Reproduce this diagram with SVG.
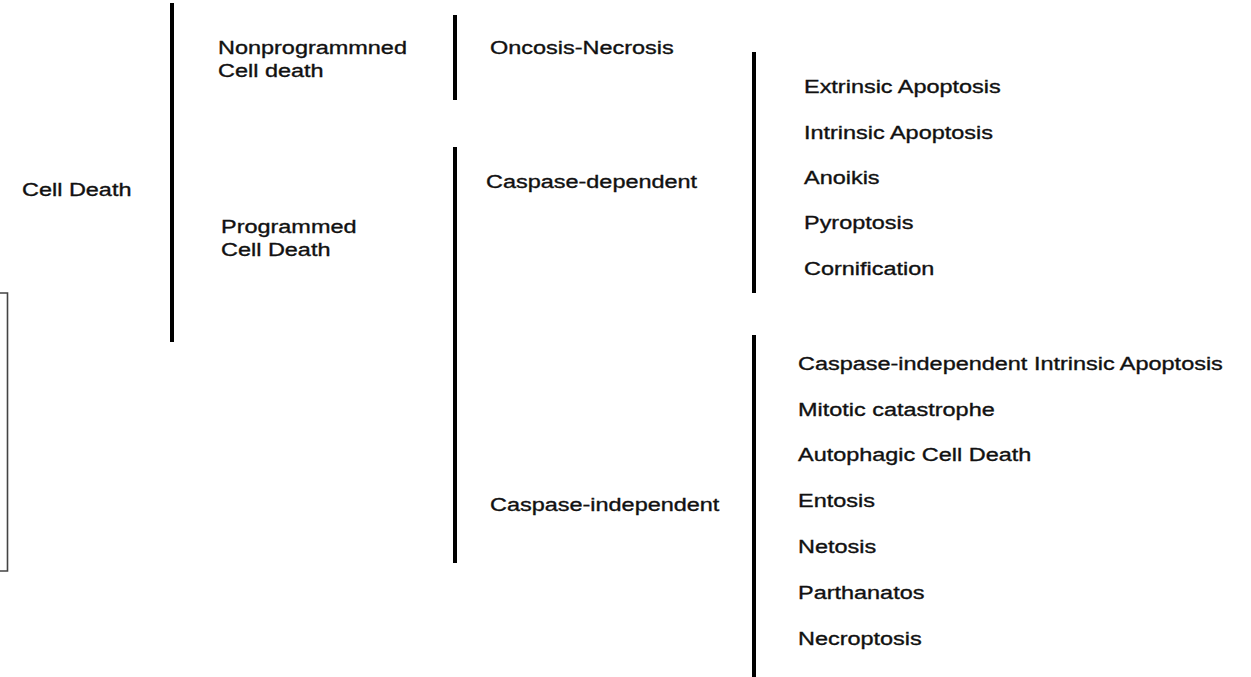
<svg xmlns="http://www.w3.org/2000/svg" width="1251" height="677" viewBox="0 0 1251 677">
<style>
text{font-family:"Liberation Sans",Arial,sans-serif;font-size:19px;fill:#111;stroke:#111;stroke-width:0.35}
.br{stroke:#000;stroke-width:4;fill:none}
.box{stroke:#444;stroke-width:1.6;fill:none}
</style>
<rect width="1251" height="677" fill="#fff"/>
<g id="connectors">
<line class="br" x1="172" y1="3" x2="172" y2="342"/>
<line class="br" x1="455" y1="15" x2="455" y2="100"/>
<line class="br" x1="455" y1="147" x2="455" y2="563"/>
<line class="br" x1="754" y1="52" x2="754" y2="293"/>
<line class="br" x1="754" y1="335" x2="754" y2="677"/>
</g>
<g id="frame"><path class="box" d="M0,293 H7.5 V571 H0"/></g>
<g id="cell-death"><text transform="matrix(1.235,0,0,1,22,196)">Cell Death</text></g>
<g id="nonprogrammed"><text transform="matrix(1.235,0,0,1,218,54)">Nonprogrammned</text><text transform="matrix(1.235,0,0,1,218,77)">Cell death</text></g>
<g id="programmed"><text transform="matrix(1.235,0,0,1,221,233)">Programmed</text><text transform="matrix(1.235,0,0,1,221,256)">Cell Death</text></g>
<g id="oncosis"><text transform="matrix(1.235,0,0,1,490,54)">Oncosis-Necrosis</text></g>
<g id="caspase-dependent"><text transform="matrix(1.235,0,0,1,486,188)">Caspase-dependent</text></g>
<g id="caspase-independent"><text transform="matrix(1.235,0,0,1,490,511)">Caspase-independent</text></g>
<g id="dependent-types">
<text transform="matrix(1.235,0,0,1,804,93)">Extrinsic Apoptosis</text>
<text transform="matrix(1.235,0,0,1,804,139)">Intrinsic Apoptosis</text>
<text transform="matrix(1.235,0,0,1,804,184)">Anoikis</text>
<text transform="matrix(1.235,0,0,1,804,229)">Pyroptosis</text>
<text transform="matrix(1.235,0,0,1,804,275)">Cornification</text>
</g>
<g id="independent-types">
<text transform="matrix(1.235,0,0,1,798,370)">Caspase-independent Intrinsic Apoptosis</text>
<text transform="matrix(1.235,0,0,1,798,416)">Mitotic catastrophe</text>
<text transform="matrix(1.235,0,0,1,798,461)">Autophagic Cell Death</text>
<text transform="matrix(1.235,0,0,1,798,507)">Entosis</text>
<text transform="matrix(1.235,0,0,1,798,553)">Netosis</text>
<text transform="matrix(1.235,0,0,1,798,599)">Parthanatos</text>
<text transform="matrix(1.235,0,0,1,798,645)">Necroptosis</text>
</g>
</svg>
